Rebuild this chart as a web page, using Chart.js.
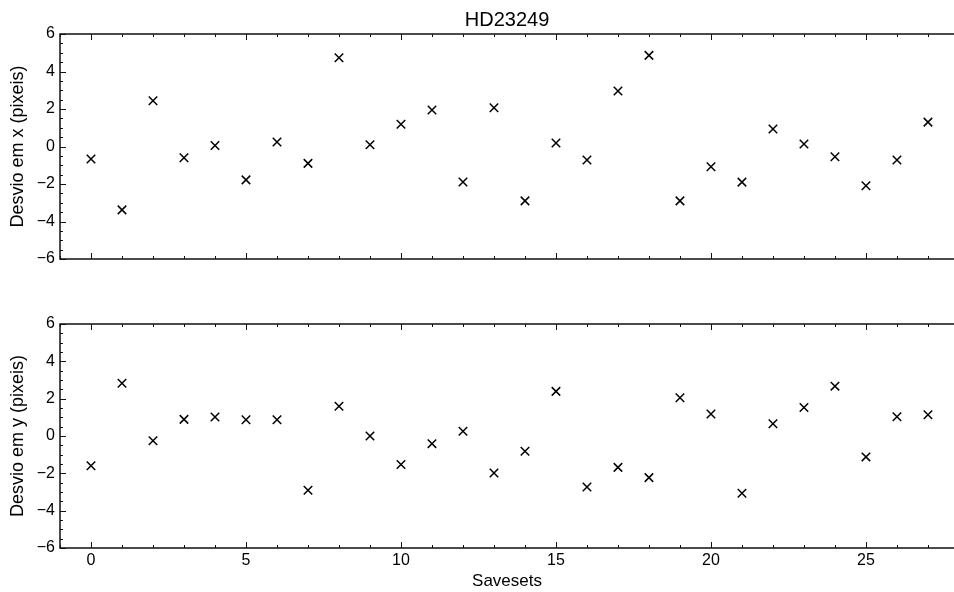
<!DOCTYPE html>
<html>
<head>
<meta charset="utf-8">
<script src="https://cdn.jsdelivr.net/npm/chart.js@4/dist/chart.umd.min.js"></script>
<style>
  html, body { margin: 0; padding: 0; background: #fff; }
  #wrap { position: relative; width: 954px; height: 592px; overflow: hidden; }
  canvas { position: absolute; left: 0; top: 0; }
</style>
</head>
<body>
<div id="wrap">
  <canvas id="top" width="954" height="592"></canvas>
  <canvas id="bot" width="954" height="592"></canvas>
</div>
<script>
// ---- data ----
const savesets = [0,1,2,3,4,5,6,7,8,9,10,11,12,13,14,15,16,17,18,19,20,21,22,23,24,25,26,27];
const desvioX = [-0.67,-3.38,2.44,-0.6,0.05,-1.78,0.24,-0.9,4.73,0.09,1.19,1.95,-1.89,2.07,-2.9,0.19,-0.72,2.96,4.86,-2.9,-1.08,-1.9,0.93,0.13,-0.55,-2.09,-0.72,1.3];
const desvioY = [-1.59,2.83,-0.25,0.89,1.02,0.87,0.87,-2.91,1.59,0.0,-1.53,-0.41,0.25,-1.98,-0.82,2.39,-2.73,-1.68,-2.23,2.05,1.18,-3.07,0.66,1.53,2.67,-1.12,1.03,1.14];
const xTickLabels = [0,5,10,15,20,25];
const yTickLabels = [-6,-4,-2,0,2,4,6];
const titleText = 'HD23249';
const yTitleTop = 'Desvio em x (pixeis)';
const yTitleBot = 'Desvio em y (pixeis)';
const xTitle = 'Savesets';

const FONT = "'Liberation Sans', Arial, sans-serif";
Chart.defaults.font.family = FONT;
Chart.defaults.color = '#000';

const fmt = v => String(v).replace('-', '\u2212');

const inwardTicks = {
  id: 'inwardTicks',
  afterDraw(chart) {
    const {ctx, chartArea: a, scales: {x, y}} = chart;
    ctx.save();
    ctx.strokeStyle = '#111';
    ctx.lineWidth = 1.5;
    ctx.beginPath();
    ctx.moveTo(a.right + 2, a.top);
    ctx.lineTo(a.left, a.top);
    ctx.lineTo(a.left, a.bottom);
    ctx.lineTo(a.right + 2, a.bottom);
    ctx.stroke();
    ctx.lineWidth = 1;
    ctx.beginPath();
    for (let v = Math.ceil(x.min); v <= Math.floor(x.max); v++) {
      const px = Math.round(x.getPixelForValue(v)) + 0.5;
      const L = v % 5 === 0 ? 6 : 3;
      ctx.moveTo(px, a.top); ctx.lineTo(px, a.top + L);
      ctx.moveTo(px, a.bottom); ctx.lineTo(px, a.bottom - L);
    }
    for (let v = y.min; v <= y.max + 1e-9; v += 0.5) {
      const py = Math.round(y.getPixelForValue(v)) + 0.5;
      const L = Math.abs(v % 2) < 1e-9 ? 6 : 3;
      ctx.moveTo(a.left, py); ctx.lineTo(a.left + L, py);
    }
    ctx.stroke();
    ctx.restore();
  }
};

function makeY(title) {
  return {
    min: -6, max: 6,
    afterBuildTicks: s => { s.ticks = yTickLabels.map(v => ({value: v})); },
    afterFit: s => { s.width = 60; },
    grid: { display: false, drawTicks: false },
    border: { display: false },
    ticks: { font: { size: 16 }, padding: 5, color: '#000', callback: v => fmt(v) },
    title: { display: true, text: title, font: { size: 18 }, padding: { top: 7.5, bottom: 0 }, color: '#000' }
  };
}

function dataset(vals) {
  return [{
    data: savesets.map((s, i) => ({x: s, y: vals[i]})),
    showLine: false,
    pointStyle: 'crossRot',
    pointRadius: 6,
    pointHoverRadius: 6,
    borderColor: '#000',
    backgroundColor: '#000',
    pointBorderWidth: 1.5
  }];
}

new Chart(document.getElementById('top'), {
  type: 'scatter',
  data: { datasets: dataset(desvioX) },
  options: {
    responsive: false, animation: false, events: [],
    layout: { autoPadding: false, padding: { left: 0, right: 0, top: 0, bottom: 333 } },
    plugins: { legend: { display: false }, tooltip: { enabled: false } },
    scales: {
      x: {
        type: 'linear', position: 'top', min: -1, max: 27.84,
        afterFit: s => { s.height = 34; },
        grid: { display: false, drawTicks: false },
        border: { display: false },
        ticks: { display: false },
        title: { display: true, text: titleText, font: { size: 20 }, padding: { top: 8, bottom: 0 }, color: '#000' }
      },
      y: makeY(yTitleTop)
    }
  },
  plugins: [inwardTicks]
});

new Chart(document.getElementById('bot'), {
  type: 'scatter',
  data: { datasets: dataset(desvioY) },
  options: {
    responsive: false, animation: false, events: [],
    layout: { autoPadding: false, padding: { left: 0, right: 0, top: 324, bottom: 0 } },
    plugins: { legend: { display: false }, tooltip: { enabled: false } },
    scales: {
      x: {
        type: 'linear', min: -1, max: 27.84,
        afterBuildTicks: s => { s.ticks = xTickLabels.map(v => ({value: v})); },
        afterFit: s => { s.height = 44; },
        grid: { display: false, drawTicks: false },
        border: { display: false },
        ticks: { font: { size: 16 }, padding: 3, color: '#000', maxRotation: 0 },
        title: { display: true, text: xTitle, font: { size: 17 }, padding: { top: 0, bottom: 0 }, color: '#000' }
      },
      y: makeY(yTitleBot)
    }
  },
  plugins: [inwardTicks]
});
</script>
</body>
</html>
